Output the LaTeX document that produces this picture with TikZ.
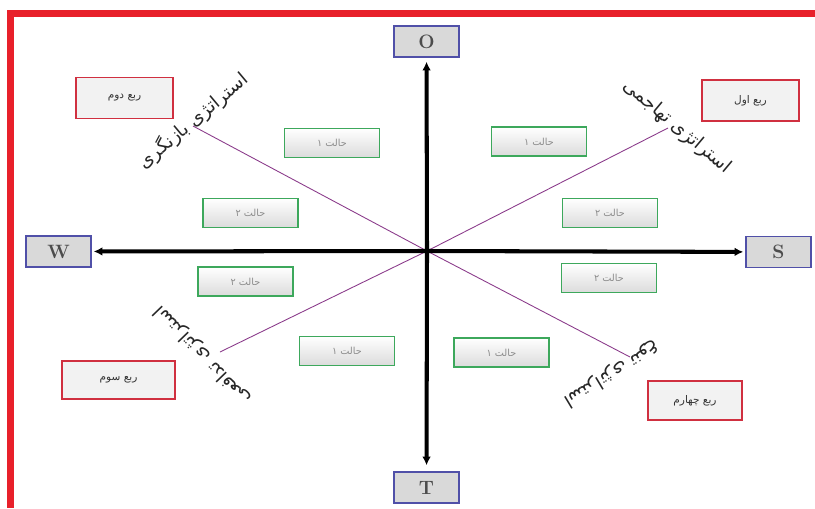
\documentclass[tikz,border=0pt]{standalone}
\usepackage{fontspec}
\usetikzlibrary{arrows.meta}
\newfontfamily\fa[Script=Arabic]{DejaVu Sans}
\TeXXeTstate=1
\definecolor{frameRed}{HTML}{E8202A}
\definecolor{qRed}{HTML}{D03040}
\definecolor{qFill}{HTML}{F2F2F2}
\definecolor{cGreen}{HTML}{3DA85C}
\definecolor{axBlue}{HTML}{5050A8}
\definecolor{axFill}{HTML}{D9D9D9}
\definecolor{diagPurple}{HTML}{8A3A8A}
\begin{document}
\begin{tikzpicture}[x=0.02cm,y=-0.02cm,
  axisbox/.style={draw=axBlue,line width=0.8pt,fill=axFill,minimum width=1.3cm,minimum height=0.62cm,inner sep=0pt,font=\fontsize{11}{12}\selectfont\bfseries,text=black!70},
  quadbox/.style={draw=qRed,line width=0.8pt,fill=qFill,minimum width=1.94cm,minimum height=0.82cm,inner sep=0pt,font=\fa\fontsize{6}{7}\selectfont,text=black!80},
  casebox/.style={draw=cGreen,line width=0.9pt,top color=white,bottom color=black!14,minimum width=1.9cm,minimum height=0.58cm,inner sep=0pt,font=\fa\fontsize{5.5}{6}\selectfont,text=black!45},
  axisarrow/.style={line width=2.3pt,-{Latex[length=5pt,width=5pt]}},
  diagline/.style={diagPurple,line width=0.5pt},
  stratlabel/.style={font=\fa\fontsize{10.5}{11}\selectfont,text=black!85,inner sep=0pt}]
\useasboundingbox (0,0) rectangle (815,508);
% red frame (cut at right and bottom)
\draw[frameRed,line width=7*0.02cm] (7,13.5) -- (815,13.5);
\draw[frameRed,line width=7*0.02cm] (10.5,10) -- (10.5,508);

\coordinate (C) at (427,251);
% axis boxes
\node[axisbox] (O) at (426.5,41.5) {O};
\node[axisbox] (T) at (426.5,487.5) {T};
\node[axisbox] (W) at (58.5,251.5) {W};
\node[axisbox] (S) at (778.5,252) {S};

% diagonals
\coordinate (dUR) at (668,128);
\coordinate (dUL) at (193,126);
\coordinate (dLL) at (220,352);
\coordinate (dLR) at (630,357);
\draw[diagline] (C) -- (dUR);
\draw[diagline] (C) -- (dUL);
\draw[diagline] (C) -- (dLL);
\draw[diagline] (C) -- (dLR);

% axes
\draw[axisarrow,shorten >=4*0.02cm] (C) -- (O);
\draw[axisarrow,shorten >=6*0.02cm] (C) -- (T);
\draw[axisarrow,shorten >=2*0.02cm] (C) -- (W);
\draw[axisarrow,shorten >=2*0.02cm] (C) -- (S);

% quadrant boxes
\node[quadbox] (q1) at (750.5,100.5) {\beginR ربع اول\endR};
\node[quadbox] (q2) at (124.5,98) {\beginR ربع دوم\endR};
\node[quadbox,minimum width=2.26cm,minimum height=0.76cm] (q3) at (118.5,380) {\beginR ربع سوم\endR};
\node[quadbox,minimum width=1.88cm,minimum height=0.78cm] (q4) at (695,400.5) {\beginR ربع چهارم\endR};

% case boxes
\node[casebox] (g1) at (332,143) {\beginR حالت ۱\endR};
\node[casebox] (g2) at (250.5,213) {\beginR حالت ۲\endR};
\node[casebox] (g3) at (245.5,281.5) {\beginR حالت ۲\endR};
\node[casebox] (g4) at (539,141.5) {\beginR حالت ۱\endR};
\node[casebox] (g5) at (610,213) {\beginR حالت ۲\endR};
\node[casebox] (g6) at (609,278) {\beginR حالت ۲\endR};
\node[casebox] (g7) at (347,351) {\beginR حالت ۱\endR};
\node[casebox] (g8) at (501.5,352.5) {\beginR حالت ۱\endR};

% strategy labels
\node[stratlabel,rotate=40] (s2) at (193,121) {\beginR استراتژی بازنگری\endR};
\node[stratlabel,rotate=-40] (s1) at (677,127) {\beginR استراتژی تهاجمی\endR};
\node[stratlabel,rotate=134] (s3) at (203,355) {\beginR استراتژی تدافعی\endR};
\node[stratlabel,rotate=211] (s4) at (612,374) {\beginR استراتژی تنوع\endR};
\end{tikzpicture}
\end{document}
